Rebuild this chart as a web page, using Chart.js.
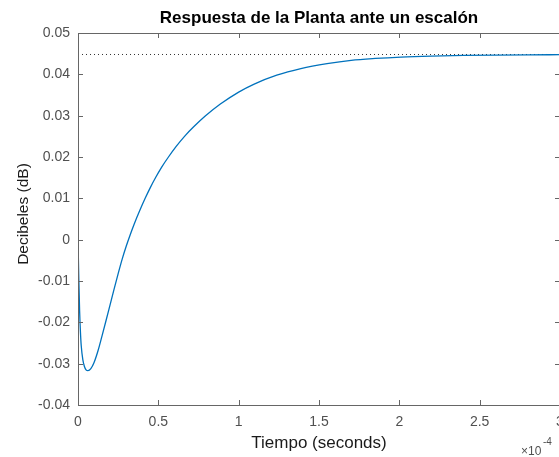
<!DOCTYPE html>
<html>
<head>
<meta charset="utf-8">
<script src="https://cdn.jsdelivr.net/npm/chart.js@4"></script>
<style>
  html, body { margin: 0; padding: 0; overflow: hidden; background: #fff; }
  #wrap { width: 580px; height: 457px; }
</style>
</head>
<body>
<div id="wrap"><canvas id="stepChart"></canvas></div>
<script>
// time in units of 1e-4 s
const tiempo = [0, 0.005, 0.01, 0.015, 0.02, 0.03, 0.04, 0.05, 0.062, 0.08, 0.1, 0.125, 0.15, 0.175,
  0.2, 0.225, 0.25, 0.275, 0.3, 0.325, 0.35, 0.385, 0.418, 0.45, 0.484, 0.52, 0.563, 0.61, 0.663,
  0.72, 0.792, 0.886, 1.0, 1.1, 1.237, 1.387, 1.55, 1.7, 1.85, 2.01, 2.2, 2.4, 2.6, 2.8, 3.0];
const respuesta = [0, -0.0095, -0.0172, -0.0222, -0.0256, -0.0290, -0.0307, -0.0315, -0.0317,
  -0.0312, -0.0297, -0.0268, -0.0232, -0.0195, -0.0157, -0.0119, -0.0082, -0.0047, -0.0016, 0.0012,
  0.0038, 0.0071, 0.0100, 0.0126, 0.0151, 0.0175, 0.0200, 0.0225, 0.0250, 0.0273, 0.0299, 0.0328,
  0.0357, 0.0377, 0.0398, 0.0414, 0.0426, 0.0434, 0.04385, 0.04418, 0.04442, 0.04458, 0.04467,
  0.04472, 0.04475];
const valorFinal = 0.0448;
const xTicks = [0, 0.5, 1, 1.5, 2, 2.5, 3];
const yTicks = [-0.04, -0.03, -0.02, -0.01, 0, 0.01, 0.02, 0.03, 0.04, 0.05];

const FONT = '"Liberation Sans", Arial, Helvetica, sans-serif';
const AXIS_COLOR = '#666666';
const TEXT_COLOR = '#505050';

const curve = tiempo.map((t, i) => ({ x: t, y: respuesta[i] }));
const steady = [{ x: xTicks[0], y: valorFinal }, { x: xTicks[xTicks.length - 1], y: valorFinal }];

// box around the axes with inward tick marks, title, axis labels and exponent
const matlabAxes = {
  id: 'matlabAxes',
  afterDraw(chart) {
    const { ctx, chartArea: a, scales } = chart;
    const len = 5;
    ctx.save();
    ctx.strokeStyle = AXIS_COLOR;
    ctx.lineWidth = 1;
    ctx.beginPath();
    ctx.rect(a.left + 0.5, a.top + 0.5, a.right - a.left, a.bottom - a.top);
    xTicks.forEach(v => {
      const px = Math.round(scales.x.getPixelForValue(v)) + 0.5;
      ctx.moveTo(px, a.bottom); ctx.lineTo(px, a.bottom - len);
      ctx.moveTo(px, a.top); ctx.lineTo(px, a.top + len);
    });
    yTicks.forEach(v => {
      const py = Math.round(scales.y.getPixelForValue(v)) + 0.5;
      ctx.moveTo(a.left, py); ctx.lineTo(a.left + len, py);
      ctx.moveTo(a.right, py); ctx.lineTo(a.right - len, py);
    });
    ctx.stroke();

    const cx = (a.left + a.right) / 2;
    ctx.fillStyle = '#000';
    ctx.textAlign = 'center';
    ctx.textBaseline = 'alphabetic';
    ctx.font = 'bold 17px ' + FONT;
    ctx.fillText('Respuesta de la Planta ante un escalón', cx, 23);

    ctx.fillStyle = '#1a1a1a';
    ctx.font = '17px ' + FONT;
    ctx.fillText('Tiempo (seconds)', cx, 448);

    ctx.save();
    ctx.translate(24, 214);
    ctx.rotate(-Math.PI / 2);
    ctx.textBaseline = 'middle';
    ctx.font = '15.5px ' + FONT;
    ctx.fillText('Decibeles (dB)', 0, 0);
    ctx.restore();

    ctx.fillStyle = TEXT_COLOR;
    ctx.textAlign = 'left';
    ctx.font = '12px ' + FONT;
    ctx.fillText('×10', 521, 455);
    ctx.font = '10px ' + FONT;
    ctx.fillText('-4', 543, 445);
    ctx.restore();
  }
};

const ctx = document.getElementById('stepChart').getContext('2d');
const stepChart = new Chart(ctx, {
  type: 'line',
  data: {
    datasets: [{
      data: curve,
      borderColor: '#0072BD',
      borderWidth: 1.3,
      pointRadius: 0,
      cubicInterpolationMode: 'monotone',
      fill: false
    }, {
      data: steady,
      borderColor: '#333333',
      borderWidth: 1,
      borderDash: [1, 3],
      pointRadius: 0,
      fill: false
    }]
  },
  options: {
    responsive: true,
    maintainAspectRatio: false,
    animation: false,
    layout: { padding: { top: 33, right: 20, bottom: 0, left: 0 } },
    plugins: {
      legend: { display: false },
      tooltip: { enabled: false }
    },
    scales: {
      x: {
        type: 'linear',
        min: 0,
        max: 3,
        afterBuildTicks: s => { s.ticks = xTicks.map(v => ({ value: v })); },
        afterFit: s => { s.height = 52; },
        grid: { display: false, drawTicks: false },
        border: { display: false },
        ticks: {
          padding: 9,
          color: TEXT_COLOR,
          font: { family: FONT, size: 14 },
          maxRotation: 0,
          callback: v => String(v)
        }
      },
      y: {
        min: -0.04,
        max: 0.05,
        afterBuildTicks: s => { s.ticks = yTicks.map(v => ({ value: v })); },
        afterFit: s => { s.width = 78; },
        grid: { display: false, drawTicks: false },
        border: { display: false },
        ticks: {
          padding: 8,
          color: TEXT_COLOR,
          font: { family: FONT, size: 14 },
          callback: v => String(parseFloat(v.toFixed(2)))
        }
      }
    }
  },
  plugins: [matlabAxes]
});
</script>
</body>
</html>
